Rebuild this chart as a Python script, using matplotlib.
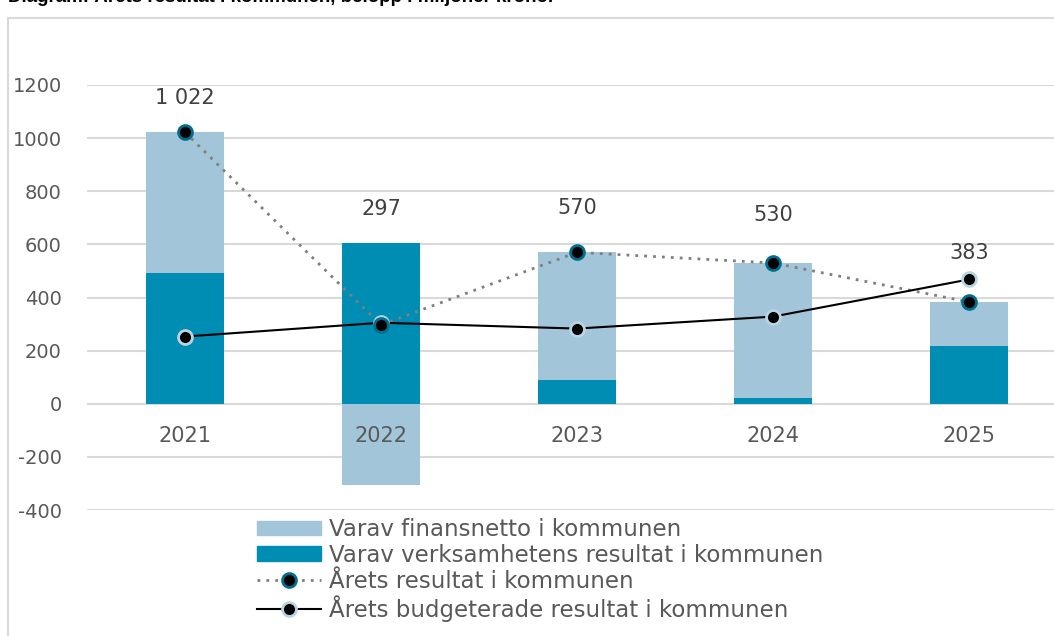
import matplotlib.pyplot as plt
from matplotlib.patches import Rectangle
from matplotlib.lines import Line2D
from matplotlib.patches import Patch
import numpy as np

# data (miljoner kronor)
years = ["2021", "2022", "2023", "2024", "2025"]
verksamhet = [493, 604, 88, 20, 217]
finansnetto = [529, -307, 482, 510, 166]
resultat = [1022, 297, 570, 530, 383]
budget = [253, 305, 283, 328, 468]
labels = ["1 022", "297", "570", "530", "383"]

# label offsets above the result point, in pixels
label_dy = [34, 116, 44, 48, 49]

light = "#A3C5D9"
dark = "#008DB3"
txt = "#595959"

plt.rcParams['font.family'] = ['DejaVu Sans']
plt.rcParams['axes.unicode_minus'] = False

fig = plt.figure(figsize=(10.54, 6.36), dpi=100)
W, H = 1054, 636

# outer chart frame (cut off right / bottom)
fig.patches.append(Rectangle((8 / W, -0.1), 1.2, 1 - 18 / H + 0.1, transform=fig.transFigure,
                             fill=False, edgecolor="#D9D9D9", lw=1.5))
fig.text(8 / W, 1 - 2 / H, "Diagram: Årets resultat i kommunen, belopp i miljoner kronor",
         family="Liberation Sans", weight="bold", fontsize=13.5, va="baseline", ha="left")

ax = fig.add_axes([87 / W, 1 - 510 / H, 980 / W, 425 / H])
x = np.arange(len(years))
bw = 0.40

ax.bar(x, verksamhet, bw, color=dark, zorder=2)
base = [v if f >= 0 else 0 for v, f in zip(verksamhet, finansnetto)]
ax.bar(x, finansnetto, bw, bottom=base, color=light, zorder=2)

ax.plot(x, resultat, color="#7F7F7F", lw=2, linestyle=(0, (1, 2.2)), zorder=3)
ax.plot(x, resultat, linestyle="none", marker="o", ms=10, mfc="black", mec="#006E8C", mew=2, zorder=5)
ax.plot(x, budget, color="black", lw=1.5, marker="o", ms=10, mfc="black", mec="#BBD4E2", mew=2, zorder=4)

for i, (v, lab) in enumerate(zip(resultat, labels)):
    ax.annotate(lab, (x[i], v), xytext=(0, label_dy[i]), textcoords="offset pixels",
                ha="center", va="center", fontsize=15, color="#404040")

for i, yr in enumerate(years):
    ax.annotate(yr, (x[i], 0), xytext=(0, -32), textcoords="offset pixels",
                ha="center", va="center", fontsize=15, color=txt, zorder=6)

ax.set_xlim(-0.5, 4.5)
ax.set_ylim(-400, 1200)
ax.set_yticks(range(-400, 1201, 200))
ax.set_xticks([])
ax.grid(axis="y", color="#D9D9D9", lw=1.5, zorder=0)
ax.set_axisbelow(True)
for s in ax.spines.values():
    s.set_visible(False)
ax.tick_params(axis="y", length=0, pad=18, labelsize=14, labelcolor=txt)

handles = [
    Patch(color=light),
    Patch(color=dark),
    Line2D([], [], color="#7F7F7F", lw=2, linestyle=(0, (1, 2.2)), marker="o", ms=10,
           mfc="black", mec="#006E8C", mew=2),
    Line2D([], [], color="black", lw=1.5, marker="o", ms=10, mfc="black", mec="#BBD4E2", mew=2),
]
names = [
    "Varav finansnetto i kommunen",
    "Varav verksamhetens resultat i kommunen",
    "Årets resultat i kommunen",
    "Årets budgeterade resultat i kommunen",
]
leg = fig.legend(handles, names, loc="upper left", bbox_to_anchor=(257 / W, 1 - 518 / H),
                 frameon=False, fontsize=16.5, handlelength=2.8, handleheight=0.6,
                 labelspacing=0.12, handletextpad=0.35, borderpad=0, borderaxespad=0)
for t in leg.get_texts():
    t.set_color(txt)

fig.savefig("out.png", dpi=100)
